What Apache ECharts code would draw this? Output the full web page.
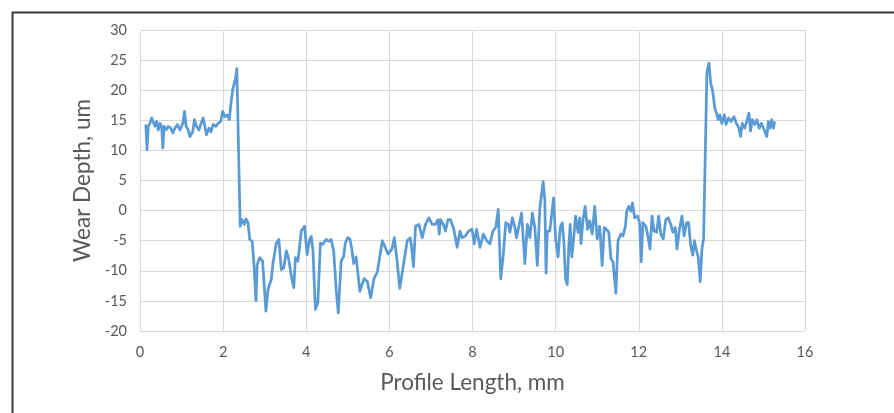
<!DOCTYPE html>
<html><head><meta charset="utf-8">
<script src="https://cdn.jsdelivr.net/npm/echarts@6/dist/echarts.min.js"></script>
<style>html,body{margin:0;padding:0;background:#fff}#c{width:894px;height:413px}</style>
</head><body><div id="c"></div>
<script>
const xAxisTicks = [0, 2, 4, 6, 8, 10, 12, 14, 16];
const yAxisTicks = [-20, -15, -10, -5, 0, 5, 10, 15, 20, 25, 30];
const xTitle = 'Profile Length, mm';
const yTitle = 'Wear Depth, um';

const profileX = [
0.14,0.17,0.2,0.24,0.28,0.32,0.36,0.4,0.44,0.48,0.52,0.55,0.58,0.63,0.68,0.74,0.79,0.84,0.9,0.96,
1.03,1.07,1.11,1.16,1.2,1.27,1.31,1.36,1.42,1.47,1.52,1.56,1.6,1.66,1.71,1.76,1.83,1.88,1.94,1.99,
2.04,2.1,2.15,2.18,2.23,2.26,2.3,2.33,2.37,2.41,2.45,2.51,2.55,2.6,2.64,2.7,2.74,2.79,2.82,2.88,
2.95,3.03,3.08,3.16,3.2,3.28,3.34,3.4,3.46,3.52,3.58,3.64,3.7,3.74,3.8,3.88,3.96,4.02,4.08,4.12,
4.16,4.22,4.28,4.34,4.4,4.48,4.55,4.6,4.66,4.72,4.77,4.84,4.9,4.94,5.0,5.05,5.1,5.14,5.2,5.29,
5.39,5.47,5.55,5.63,5.71,5.83,5.97,6.06,6.12,6.18,6.25,6.35,6.43,6.5,6.53,6.58,6.63,6.71,6.79,6.87,
6.95,7.03,7.11,7.17,7.2,7.23,7.3,7.35,7.41,7.47,7.55,7.63,7.7,7.75,7.83,7.91,7.99,8.04,8.1,8.18,
8.26,8.34,8.42,8.49,8.56,8.62,8.68,8.74,8.8,8.86,8.9,8.96,9.02,9.06,9.1,9.18,9.26,9.32,9.38,9.44,
9.5,9.56,9.62,9.7,9.74,9.77,9.8,9.86,9.9,9.95,10.0,10.06,10.11,10.16,10.2,10.24,10.28,10.32,10.35,10.39,
10.44,10.48,10.54,10.58,10.61,10.66,10.71,10.77,10.82,10.88,10.94,11.0,11.06,11.12,11.17,11.22,11.28,11.33,11.38,11.45,
11.5,11.57,11.62,11.68,11.71,11.76,11.81,11.85,11.9,11.97,12.02,12.06,12.1,12.17,12.22,12.27,12.32,12.37,12.43,12.48,
12.53,12.59,12.65,12.71,12.77,12.82,12.88,12.92,12.98,13.04,13.09,13.15,13.2,13.25,13.3,13.34,13.38,13.43,13.48,13.52,
13.56,13.6,13.64,13.69,13.73,13.78,13.83,13.87,13.91,13.95,14.0,14.06,14.1,14.16,14.22,14.29,14.35,14.41,14.45,14.49,
14.55,14.61,14.65,14.69,14.73,14.79,14.84,14.9,14.95,15.02,15.08,15.12,15.16,15.2,15.24,15.27
];
const wearDepth = [
14.3,10.1,14.0,14.5,15.4,15.1,14.0,14.8,13.4,14.5,14.0,10.4,14.0,13.4,14.0,13.7,12.9,13.7,14.3,13.4,
14.5,16.5,14.0,13.4,12.3,13.1,15.1,14.0,13.4,14.5,15.4,14.0,12.6,13.7,13.1,14.3,14.0,14.5,14.8,16.5,
15.6,15.9,15.1,17.3,20.1,20.9,22.0,23.6,23.9,-2.6,-1.5,-2.3,-1.4,-2.0,-4.8,-5.1,-8.7,-15.0,-9.0,-7.8,
-8.4,-16.7,-13.1,-11.4,-8.7,-5.4,-4.8,-9.8,-9.5,-6.7,-8.1,-10.9,-12.8,-7.8,-8.4,-3.4,-2.6,-7.3,-4.8,-4.3,
-6.5,-16.4,-15.3,-5.4,-5.6,-4.8,-5.1,-4.8,-6.7,-13.1,-17.0,-8.4,-7.6,-5.4,-4.5,-4.7,-6.5,-8.8,-7.7,-13.4,
-11.3,-11.8,-14.5,-11.3,-10.2,-5.0,-7.2,-6.4,-4.5,-8.0,-12.9,-8.5,-5.0,-4.5,-5.8,-9.3,-2.6,-2.3,-4.5,-2.3,
-1.2,-2.3,-2.3,-1.5,-3.9,-1.5,-2.3,-3.4,-1.5,-1.5,-3.1,-6.1,-3.4,-4.5,-4.2,-3.4,-3.1,-5.5,-3.1,-6.1,
-3.9,-5.0,-5.5,-3.4,-2.8,0.2,-11.3,-7.4,-2.0,-2.3,-3.6,-1.2,-2.8,-4.5,-3.1,-0.4,-8.8,-2.3,-4.5,-0.4,
-2.8,-9.1,0.4,4.8,1.8,-10.4,-3.4,-3.4,-3.6,2.1,-4.7,-7.7,-2.8,-2.0,-5.5,-11.3,-12.3,-5.5,-2.3,-7.7,
-4.2,-0.9,-3.6,-1.2,-5.5,-1.5,0.7,-3.1,-1.7,-3.9,0.7,-4.7,-2.6,-9.1,-2.8,-3.1,-3.6,-8.0,-8.5,-13.7,
-5.0,-3.9,-4.2,-2.6,-0.1,0.7,-0.1,1.3,-1.2,-0.9,-2.0,-8.5,-2.0,-2.6,-4.2,-6.4,-0.9,-3.4,-3.6,-0.9,
-3.9,-4.7,-1.5,-1.2,-2.3,-3.6,-2.8,-6.4,-3.1,-0.9,-4.2,-2.0,-2.0,-5.8,-7.4,-5.0,-6.4,-7.7,-11.8,-6.4,
-4.7,-4.7,23.0,24.5,21.2,19.8,17.0,16.2,15.1,15.9,14.5,15.9,14.3,15.4,14.8,15.6,14.5,13.7,12.3,14.5,
13.7,15.1,16.2,13.2,15.1,14.3,15.1,13.7,14.5,13.4,12.3,14.8,13.7,15.1,13.7,14.8
];

const chart = echarts.init(document.getElementById('c'), null, {renderer: 'canvas'});
const FONT = 'Lato';
chart.setOption({
  animation: false,
  backgroundColor: '#ffffff',
  graphic: [{
    type: 'rect', left: 10, top: 10, silent: true,
    shape: {width: 900, height: 420},
    style: {fill: 'none', stroke: '#3a3a3a', lineWidth: 2}
  }],
  grid: {left: 140, right: 89, top: 30, bottom: 82, containLabel: false},
  xAxis: {
    type: 'value', min: xAxisTicks[0], max: xAxisTicks[xAxisTicks.length - 1], interval: 2,
    name: xTitle, nameLocation: 'middle', nameGap: 40,
    nameTextStyle: {fontFamily: FONT, fontSize: 22.5, color: '#595959'},
    axisLine: {show: true, lineStyle: {color: '#d9d9d9', width: 1}},
    axisTick: {show: false},
    axisLabel: {fontFamily: FONT, fontSize: 14.5, color: '#595959', margin: 14},
    splitLine: {show: true, lineStyle: {color: '#d9d9d9', width: 1}}
  },
  yAxis: {
    type: 'value', min: yAxisTicks[0], max: yAxisTicks[yAxisTicks.length - 1], interval: 5,
    name: yTitle, nameLocation: 'middle', nameGap: 38, nameRotate: 90,
    nameTextStyle: {fontFamily: FONT, fontSize: 22.5, color: '#595959'},
    axisLine: {show: false},
    axisTick: {show: false},
    axisLabel: {fontFamily: FONT, fontSize: 14.5, color: '#595959', margin: 13},
    splitLine: {show: true, lineStyle: {color: '#d9d9d9', width: 1}}
  },
  series: [{
    type: 'line',
    data: profileX.map((x, i) => [x, wearDepth[i]]),
    showSymbol: false,
    symbol: 'none',
    lineStyle: {color: '#5B9BD5', width: 2.75, join: 'round'},
    smooth: false
  }]
});
</script>
</body></html>
